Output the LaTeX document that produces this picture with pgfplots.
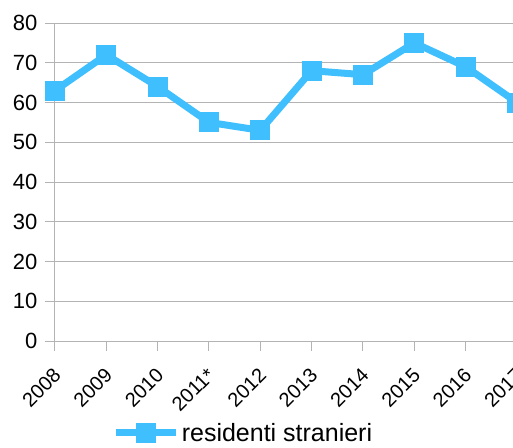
\documentclass[border=0pt]{standalone}
\usepackage{fontspec}
\setmainfont{Liberation Sans}
\usepackage{pgfplots}
\pgfplotsset{compat=1.18}
\definecolor{lblue}{RGB}{64,191,255}
\definecolor{grd}{RGB}{179,179,179}
\begin{document}
\begin{tikzpicture}
\begin{axis}[
  scale only axis,
  width=462pt, height=318pt,
  at={(0,0)}, anchor=south west,
  xmin=0, xmax=9, ymin=0, ymax=80,
  clip=false,
  axis x line*=bottom, axis y line*=left,
  axis line style={grd, line width=1pt, -},
  ytick={0,10,...,80},
  ymajorgrids, major grid style={grd, line width=1pt},
  xtick={0,...,9},
  xticklabels={2008,2009,2010,2011*,2012,2013,2014,2015,2016,2017},
  tick style={grd, line width=1pt},
  major tick length=10pt,
  tick align=outside,
  /pgf/number format/assume math mode=true,
  yticklabel style={font=\fontsize{22}{24}\selectfont, xshift=-4pt},
  xticklabel style={font=\fontsize{20}{22}\selectfont, rotate=45, anchor=north east, inner sep=0pt, xshift=-13pt, yshift=-9pt},
  legend style={at={(0.408,-0.289)}, anchor=center, draw=none, fill=none,
    font=\fontsize{25}{27}\selectfont, inner sep=0pt},
  legend cell align=left,
  legend image code/.code={\draw[mark repeat=2,mark phase=2,#1] plot coordinates {(0pt,0pt) (30pt,0pt) (60pt,0pt)};},
]
\addplot[lblue, line width=7pt, mark=square*, mark size=9.5pt, mark options={line width=0pt}] coordinates {
 (0,63) (1,72) (2,64) (3,55) (4,53) (5,68) (6,67) (7,75) (8,69) (9,60)};
\addlegendentry{residenti stranieri}
\end{axis}
\pgfresetboundingbox
\path[use as bounding box] (-55pt,-106pt) rectangle (458pt,341pt);
\end{tikzpicture}
\end{document}
